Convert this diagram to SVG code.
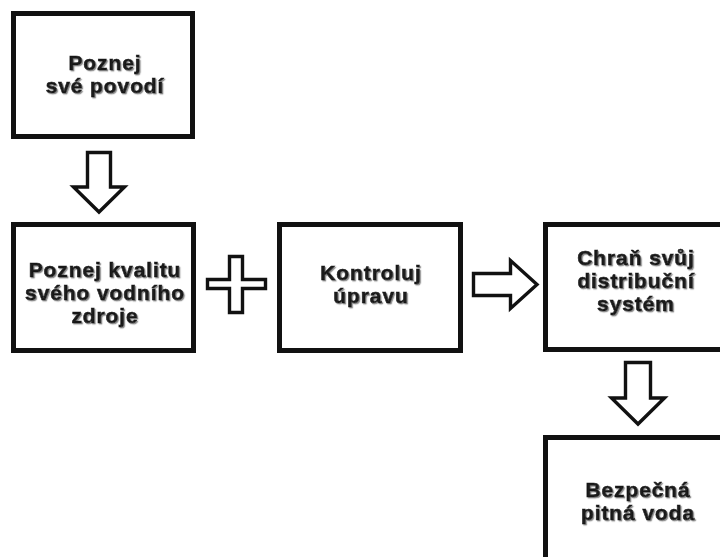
<svg xmlns="http://www.w3.org/2000/svg" width="720" height="557" viewBox="0 0 720 557">
<defs>
<filter id="sh" x="-10%" y="-10%" width="120%" height="130%">
<feDropShadow dx="1.2" dy="1.2" stdDeviation="0.6" flood-color="#8a8a8a" flood-opacity="1"/>
</filter>
</defs>
<style>
.box{fill:#fff;stroke:#111;stroke-width:5}
.lbl{font-family:"Liberation Sans",Arial,sans-serif;font-weight:bold;font-size:21px;letter-spacing:0.9px;fill:#1a1a1a;stroke:#1a1a1a;stroke-width:0.6px;text-anchor:middle;filter:url(#sh)}
.arr{fill:#fff;stroke:#111;stroke-width:3.4;stroke-linejoin:miter}
</style>
<rect width="720" height="557" fill="#fff"/>
<g id="n1">
<rect class="box" x="13.5" y="13.5" width="179" height="123"/>
<text class="lbl" x="105" y="70">Poznej</text>
<text class="lbl" x="105" y="93">své povodí</text>
</g>
<g id="n2">
<rect class="box" x="13.5" y="224.5" width="180" height="126"/>
<text class="lbl" x="105" y="277">Poznej kvalitu</text>
<text class="lbl" x="105" y="300">svého vodního</text>
<text class="lbl" x="105" y="323">zdroje</text>
</g>
<g id="n3">
<rect class="box" x="279.5" y="224.5" width="181" height="126"/>
<text class="lbl" x="371" y="280">Kontroluj</text>
<text class="lbl" x="371" y="303">úpravu</text>
</g>
<g id="n4">
<rect class="box" x="545.5" y="224.5" width="185" height="125"/>
<text class="lbl" x="636" y="265">Chraň svůj</text>
<text class="lbl" x="636" y="288">distribuční</text>
<text class="lbl" x="636" y="311">systém</text>
</g>
<g id="n5">
<rect class="box" x="545.5" y="437.5" width="185" height="130"/>
<text class="lbl" x="638" y="497">Bezpečná</text>
<text class="lbl" x="638" y="520">pitná voda</text>
</g>
<g id="connectors">
<path class="arr" d="M87.5,152.5 H110.5 V187 H124.5 L99,212 L73.5,187 H87.5 Z"/>
<path class="arr" d="M229.5,256.5 H242.5 V279.5 H265.5 V288.5 H242.5 V312.5 H229.5 V288.5 H207.5 V279.5 H229.5 Z"/>
<path class="arr" d="M473.5,273.5 H510.5 V260.5 L537,284.5 L510.5,308.5 V295.5 H473.5 Z"/>
<path class="arr" d="M625.5,362.5 H650.5 V398 H664.5 L638,424 L611.5,398 H625.5 Z"/>
</g>
</svg>
